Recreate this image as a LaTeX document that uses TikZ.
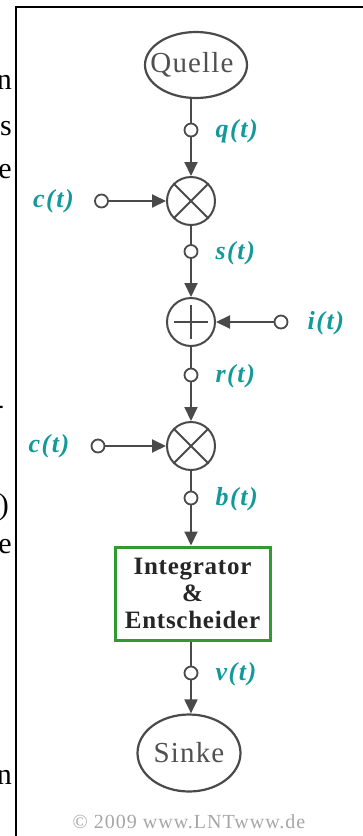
\documentclass[tikz,border=0pt]{standalone}
\usepackage{fontspec}
\setmainfont{Liberation Serif}
\usepackage{xcolor}
\usepackage{tikz}
\usetikzlibrary{shapes.geometric, positioning, arrows.meta}
\definecolor{lntteal}{HTML}{14999A}
\definecolor{lntgreen}{HTML}{2F9A2F}
\definecolor{linegray}{HTML}{4A4A4A}
\definecolor{textgray}{HTML}{505050}

\begin{document}
\begin{tikzpicture}[x=1pt, y=-1pt,
    line/.style={draw=linegray, line width=2pt},
    flow/.style={line, -{Triangle[length=14pt, width=13pt]}},
    tap/.style={circle, draw=linegray, line width=1.8pt, fill=white, minimum size=13pt, inner sep=0pt},
    sig/.style={text=lntteal, inner sep=0pt,
      font=\fontsize{26}{27}\selectfont\bfseries\itshape\addfontfeatures{LetterSpace=6}},
    mixer/.style={circle, draw=linegray, line width=2pt, fill=white, minimum size=48pt, inner sep=0pt},
    endpoint/.style={ellipse, draw=linegray, line width=2.2pt, inner sep=0pt},
    endtext/.style={text=textgray, inner sep=0pt,
      font=\fontsize{29}{30}\selectfont\addfontfeatures{LetterSpace=4}},
    decider/.style={rectangle, draw=lntgreen, line width=3pt, align=center, inner sep=0pt,
      minimum width=155pt, minimum height=93pt, text=black!85,
      font=\fontsize{25}{27}\selectfont\bfseries\addfontfeatures{LetterSpace=3}},
    frag/.style={anchor=east, inner sep=0pt, font=\fontsize{30}{30}\selectfont},
  ]
  \def\xm{191}

  \useasboundingbox (0,0) rectangle (363,836);

  % page frame and cut text of the page
  \draw[black, line width=2pt] (16,836) -- (16,7) -- (363,7);
  \foreach \ch/\x/\y in {n/12/82, s/12/129, e/12/172, -/4/410, )/9/507, e/12/547, n/12/777}{
    \node[frag] at (\x,\y) {\ch};
  }

  % blocks
  \node[endpoint, minimum width=102pt, minimum height=66pt,
    label={[endtext, xshift=-4pt]center:Quelle}] (quelle) at (196,65) {};
  \node[mixer] (mixA)  at (\xm,201) {};
  \node[mixer] (adder) at (\xm,322) {};
  \node[mixer] (mixB)  at (\xm,446) {};
  \node[decider] (dec) at (192.5,593.5) {Integrator\\\&\\Entscheider};
  \node[endpoint, minimum width=103pt, minimum height=77pt,
    label={[endtext]center:Sinke}] (sinke) at (189,753) {};

  \foreach \m in {mixA, mixB}{
    \draw[line] (\m.north west) -- (\m.south east) (\m.north east) -- (\m.south west);
  }
  \draw[line] (adder.center) +(-17,0) -- +(17,0) (adder.center) +(0,-17) -- +(0,17);

  % signal taps on the main path
  \foreach \name/\y/\sym in {qtap/130/q, stap/251.5/s, rtap/375/r, btap/498/b, vtap/673/v}{
    \node[tap] (\name) at (\xm,\y) {};
    \node[sig, right=17pt of \name, yshift=-1.5pt] (\name lab) {\sym(t)};
  }

  % side inputs
  \node[tap] (ctapA) at (101.5,0 |- mixA) {};
  \node[sig, left=20pt of ctapA] (ctapA lab) {c(t)};
  \node[tap] (itap) at (281,0 |- adder) {};
  \node[sig, right=19pt of itap, yshift=-1.5pt] (itap lab) {i(t)};
  \node[tap] (ctapB) at (98,0 |- mixB) {};
  \node[sig, left=21pt of ctapB] (ctapB lab) {c(t)};

  % connectors
  \draw[line] (qtap |- quelle.south) -- (qtap);
  \draw[flow] (qtap) -- (mixA);
  \draw[flow] (ctapA) -- (mixA);
  \draw[line] (mixA) -- (stap);
  \draw[flow] (stap) -- (adder);
  \draw[flow] (itap) -- (adder);
  \draw[line] (adder) -- (rtap);
  \draw[flow] (rtap) -- (mixB);
  \draw[flow] (ctapB) -- (mixB);
  \draw[line] (mixB) -- (btap);
  \draw[flow] (btap) -- (btap |- dec.north);
  \draw[line] (vtap |- dec.south) -- (vtap);
  \draw[flow] (vtap) -- (vtap |- sinke.north);

  \node[text=black!35, font=\fontsize{20}{20}\selectfont\addfontfeatures{LetterSpace=5}] (copy) at (189,822)
    {\textcopyright\ 2009 www.LNTwww.de};
\end{tikzpicture}
\end{document}
